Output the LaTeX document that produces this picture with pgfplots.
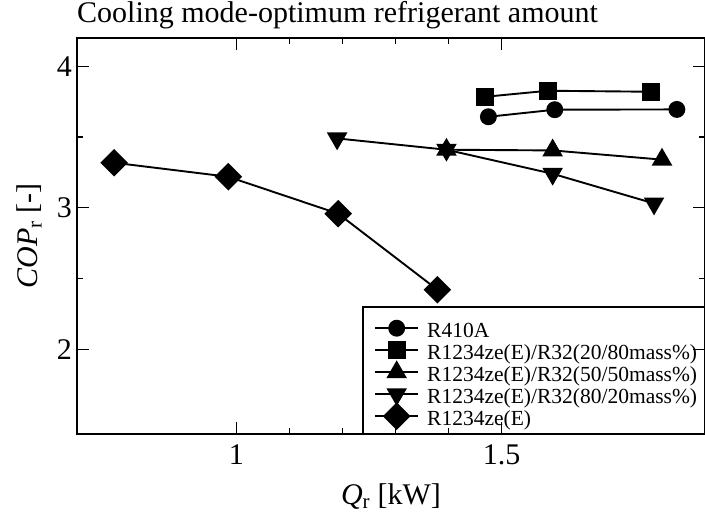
\documentclass[border=0pt]{standalone}
\usepackage{pgfplots}
\pgfplotsset{compat=1.18}
\usepackage{fontspec}
\setmainfont{Liberation Serif}

\begin{document}
\begin{tikzpicture}
\begin{axis}[
    scale only axis,
    width=628pt, height=396pt,
    xmin=0.7, xmax=1.883,
    ymin=1.4, ymax=4.2,
    xtick={1,1.5}, ytick={2,3,4},
    minor x tick num=4, minor y tick num=1,
    tick align=inside,
    major tick length=12pt, minor tick length=6pt,
    every tick/.style={black, line width=1.2pt},
    axis line style={line width=1.5pt},
    font=\fontsize{30}{30}\selectfont,
    /pgf/number format/assume math mode=true,
    xticklabel style={anchor=base, inner sep=0pt, yshift=-31pt},
    yticklabel style={anchor=base east, inner sep=0pt, xshift=-5pt, yshift=-10pt},
    title={Cooling mode-optimum refrigerant amount},
    title style={at={(axis description cs:0,1)}, anchor=base west, inner sep=0pt, yshift=9pt},
    xlabel={\textit{Q}\textsubscript{r} [kW]},
    xlabel style={at={(axis description cs:0.5,0)}, anchor=base, inner sep=0pt, yshift=-71pt},
    ylabel={\textit{COP}\textsubscript{r} [-]},
    ylabel style={at={(axis description cs:0,0.5)}, anchor=base, inner sep=0pt, yshift=39pt},
    every axis plot/.append style={black, line width=1.9pt, mark options={solid, fill=black}},
    legend cell align=left,
    legend style={draw=none, fill=none, at={(axis description cs:0.4745,0.2828)},
        anchor=north west, inner sep=0pt, row sep=0pt, column sep=9pt,
        font=\fontsize{21.5}{21.5}\selectfont,
        nodes={inner sep=0pt, text height=15pt, text depth=7pt}},
    legend image code/.code={
        \draw[mark repeat=2, mark phase=2, #1, line width=1.9pt, overlay]
            plot coordinates {(0pt,5pt)(21.5pt,5pt)(43pt,5pt)};
        \path[draw=none, fill=none] (0pt,0pt) rectangle (43pt,10pt);
    },
]

% R410A
\addplot[mark=*, mark size=7.5pt] coordinates {
    (1.475,3.643)(1.600,3.693)(1.830,3.695)
};
% 20/80
\addplot[mark=square*, mark size=8pt] coordinates {
    (1.468,3.784)(1.587,3.827)(1.781,3.820)
};
% 50/50
\addplot[mark=triangle*, mark size=10pt] coordinates {
    (1.396,3.410)(1.596,3.405)(1.802,3.340)
};
% 80/20
\addplot[mark=triangle*, mark size=10pt, mark options={rotate=180}] coordinates {
    (1.190,3.490)(1.396,3.410)(1.596,3.240)(1.787,3.030)
};
% R1234ze(E)
\addplot[mark=square*, mark size=8.8pt, mark options={rotate=45}] coordinates {
    (0.770,3.318)(0.985,3.219)(1.192,2.958)(1.379,2.420)
};
\legend{R410A, R1234ze(E)/R32(20/80mass\%), R1234ze(E)/R32(50/50mass\%),
    R1234ze(E)/R32(80/20mass\%), R1234ze(E)}

\draw[line width=1.5pt] (axis description cs:0.4554,0.3207) rectangle (axis description cs:1.05,0);
\coordinate (sw) at (rel axis cs:0,0);
\coordinate (ne) at (rel axis cs:1,1);
\end{axis}
\pgfresetboundingbox
\path ([xshift=-77pt,yshift=-85pt]sw) rectangle ([yshift=38pt]ne);
\end{tikzpicture}
\end{document}
